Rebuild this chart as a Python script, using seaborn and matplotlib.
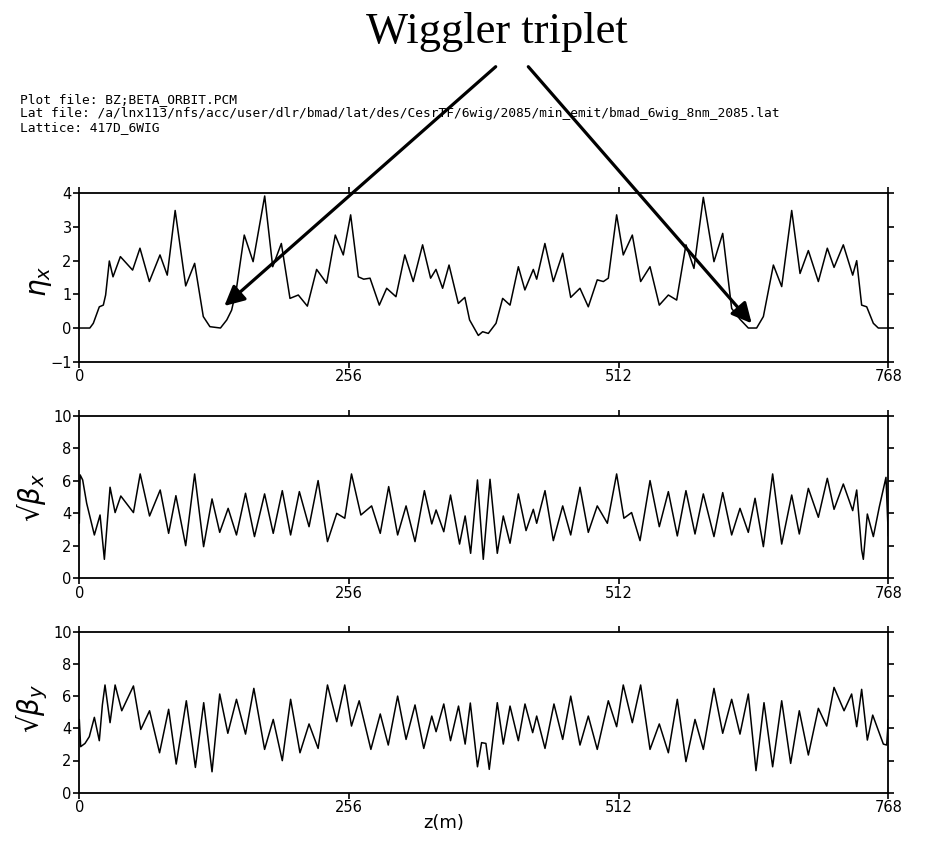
import matplotlib
matplotlib.use("Agg")
import matplotlib.pyplot as plt
from matplotlib.patches import FancyArrowPatch
import seaborn as sns
import pandas as pd

# ---------------- data ----------------
eta_z = [0, 10, 13.3, 19, 22.8, 25, 28.5, 32, 39, 50.6, 57.6, 66.5, 76.6, 83.5, 91, 101, 109.5,
         117.7, 124, 134, 140, 144.6, 149, 156.6, 165, 176, 183.6, 191.8, 200, 207.9, 216.5,
         225.3, 234.8, 243, 250.6, 257.6, 264.9, 270, 276, 284.8, 291.8, 300.6, 309, 317, 325.9,
         333.5, 338.6, 344.9, 351, 359.8, 366, 370.5, 378.8, 382.9, 388.3, 395.6, 401.9, 408.9,
         416.8, 423, 431, 434.2, 442, 450, 458.9, 466.5, 475.3, 483.2, 491.7, 497.5, 502.2,
         510.1, 516.4, 525, 532.9, 541.8, 550.6, 559.2, 567.1, 575.9, 583.5, 592.4, 602.5,
         610.8, 619.3, 627.2, 635.1, 643, 649.4, 658.9, 666.8, 676.3, 684.2, 692.1, 701.6,
         710.1, 716.5, 725.3, 734.2, 738, 742.7, 747.5, 753.8, 758.5, 768]
eta_v = [0, 0, 0.14, 0.63, 0.68, 0.98, 1.99, 1.52, 2.12, 1.72, 2.37, 1.38, 2.17, 1.57, 3.49, 1.25,
         1.92, 0.34, 0.04, 0, 0.24, 0.53, 1.13, 2.76, 1.97, 3.92, 1.82, 2.51, 0.88, 0.98, 0.65,
         1.74, 1.33, 2.76, 2.17, 3.36, 1.52, 1.45, 1.48, 0.68, 1.18, 0.93, 2.17, 1.38, 2.47,
         1.48, 1.74, 1.18, 1.87, 0.73, 0.91, 0.24, -0.22, -0.11, -0.16, 0.14, 0.88, 0.68, 1.82,
         1.13, 1.74, 1.45, 2.51, 1.38, 2.22, 0.91, 1.18, 0.63, 1.43, 1.38, 1.48, 3.36, 2.17,
         2.76, 1.38, 1.82, 0.68, 0.98, 0.83, 2.47, 1.77, 3.88, 1.97, 2.81, 0.58, 0.26, 0, 0,
         0.34, 1.87, 1.23, 3.49, 1.62, 2.30, 1.38, 2.37, 1.80, 2.47, 1.57, 2.00, 0.68, 0.63,
         0.14, 0, 0]

bx_z = [0, 0.8, 3.2, 7, 14.3, 19.7, 23.8, 29.2, 34, 39.4, 51.4, 57.8, 66.7, 76.8, 84.8, 91.7,
        101, 109.5, 118, 126, 133.3, 141.3, 149.2, 157.8, 166.3, 175.9, 184.1, 192.7, 200.6,
        208.9, 218.1, 226.7, 235.6, 244.4, 252, 258.4, 267.3, 277.5, 285.7, 293.7, 302.2, 310.2,
        318.7, 327.6, 334.6, 338.7, 346, 352.4, 361, 366.3, 371.5, 378, 383.5, 389.9, 396.8,
        402.5, 408.9, 416.8, 424.1, 431, 434.2, 442.1, 450, 458.9, 466.5, 475.3, 483.2, 491.7,
        501.3, 510.1, 517, 524.3, 532.3, 541.8, 550.6, 559.2, 567.7, 575.9, 584.5, 592.4,
        602.5, 610.8, 619.3, 627.2, 635.1, 641.5, 649.4, 658.2, 666.8, 676.3, 683.5, 692.1,
        701.6, 710.1, 716.5, 725.3, 734.2, 738, 742.7, 744.3, 748.1, 753.8, 759.5, 765.8, 768]
bx_v = [3.39, 6.37, 6.06, 4.62, 2.67, 3.90, 1.17, 5.61, 4.05, 5.07, 4.05, 6.43, 3.84, 5.44,
        2.77, 5.09, 2.01, 6.43, 1.95, 4.89, 2.83, 4.31, 2.67, 5.24, 2.57, 5.20, 2.77, 5.40,
        2.67, 5.34, 3.18, 6.02, 2.26, 4.00, 3.70, 6.43, 3.90, 4.46, 2.77, 5.65, 2.67, 4.46,
        2.26, 5.40, 3.35, 4.21, 2.87, 5.13, 2.11, 3.84, 1.54, 6.06, 1.17, 6.10, 1.54, 3.84,
        2.16, 5.20, 2.94, 4.25, 3.39, 5.40, 2.32, 4.46, 2.67, 5.61, 2.83, 4.46, 3.39, 6.43,
        3.70, 4.05, 2.32, 6.02, 3.18, 5.34, 2.61, 5.40, 2.73, 5.20, 2.57, 5.28, 2.67, 4.31,
        2.83, 4.93, 1.95, 6.43, 2.11, 5.13, 2.73, 5.54, 3.76, 6.16, 4.25, 5.81, 4.17, 5.44,
        1.75, 1.17, 3.96, 2.57, 4.41, 6.22, 2.6]

by_z = [0, 1.3, 5.4, 9.5, 14.3, 19, 21.9, 24.4, 29.2, 34, 40.3, 51.4, 58.4, 66.7, 76.2, 84.8,
        92, 101.6, 110.2, 118.1, 126, 133.3, 141, 149.2, 157.8, 165.7, 175.9, 184.1, 192.7,
        200.6, 209.5, 218.1, 226.7, 235.6, 244.4, 252, 258.4, 265.7, 276.8, 285.7, 293.3,
        302.2, 310.2, 318.7, 327, 334.6, 338.7, 346, 352.4, 360, 366.3, 371.2, 378, 381.9, 386,
        389.2, 396.8, 402.5, 408.9, 416.8, 423.1, 430.4, 434.2, 442.1, 450.6, 458.9, 466.5,
        475.3, 483.2, 491.7, 502.2, 510.1, 516.4, 525, 532.9, 541.8, 550.6, 559.2, 567.7,
        575.9, 584.5, 592.4, 602.5, 610.8, 619.3, 627.2, 635.1, 642.4, 650, 658.2, 666.8,
        675.3, 683.5, 692.1, 701.6, 709.5, 716.5, 726, 733.2, 738, 742.7, 748.1, 753.2, 763.3,
        766.5, 768]
by_v = [4.55, 2.86, 3.06, 3.48, 4.68, 3.23, 5.45, 6.69, 4.35, 6.69, 5.09, 6.63, 3.93, 5.09,
        2.48, 5.18, 1.78, 5.71, 1.57, 5.59, 1.30, 6.13, 3.69, 5.80, 3.64, 6.48, 2.69, 4.55,
        1.99, 5.80, 2.48, 4.27, 2.75, 6.69, 4.41, 6.69, 4.14, 5.71, 2.69, 4.89, 2.96, 6.00,
        3.31, 5.45, 2.75, 4.76, 3.79, 5.51, 3.23, 5.38, 3.02, 5.57, 1.61, 3.11, 3.06, 1.45,
        5.59, 3.02, 5.38, 3.23, 5.51, 3.73, 4.76, 2.75, 5.51, 3.31, 6.00, 2.96, 4.76, 2.69,
        5.71, 4.10, 6.69, 4.35, 6.69, 2.69, 4.27, 2.48, 5.80, 1.93, 4.55, 2.69, 6.48, 3.69,
        5.80, 3.64, 6.13, 1.37, 5.59, 1.61, 5.71, 1.82, 5.09, 2.34, 5.24, 4.14, 6.54, 5.09,
        6.13, 4.10, 6.42, 3.27, 4.82, 3.02, 2.96, 4.55]

x_ticks = [0, 256, 512, 768]
eta_ticks = [-1, 0, 1, 2, 3, 4]
beta_ticks = [0, 2, 4, 6, 8, 10]

header_lines = [
    "Plot file: BZ;BETA_ORBIT.PCM",
    "Lat file: /a/lnx113/nfs/acc/user/dlr/bmad/lat/des/CesrTF/6wig/2085/min_emit/bmad_6wig_8nm_2085.lat",
    "Lattice: 417D_6WIG",
]
title_text = "Wiggler triplet"

# ---------------- figure ----------------
sns.set_style("ticks")
plt.rcParams["font.family"] = ["DejaVu Sans"]
plt.rcParams["text.color"] = "black"
plt.rcParams["axes.labelcolor"] = "black"

W, H = 941, 841
fig = plt.figure(figsize=(W / 100, H / 100), dpi=100)


def px_axes(left, top, right, bottom):
    return fig.add_axes([left / W, 1 - bottom / H, (right - left) / W, (bottom - top) / H])


ax1 = px_axes(79.3, 193.3, 888.3, 361.7)
ax2 = px_axes(79.3, 416.0, 888.3, 578.3)
ax3 = px_axes(79.3, 631.7, 888.3, 792.7)

panels = [
    (ax1, eta_z, eta_v, (-1, 4), eta_ticks),
    (ax2, bx_z, bx_v, (0, 10), beta_ticks),
    (ax3, by_z, by_v, (0, 10), beta_ticks),
]

for ax, zz, vv, ylim, yt in panels:
    df = pd.DataFrame({"z": zz, "v": vv})
    sns.lineplot(data=df, x="z", y="v", ax=ax, color="black", linewidth=1.1,
                 sort=False, estimator=None)
    ax.set_xlim(0, 768)
    ax.set_ylim(*ylim)
    ax.set_xticks(x_ticks)
    ax.set_yticks(yt)
    ax.set_xlabel("")
    ax.set_ylabel("")
    for s in ax.spines.values():
        s.set_visible(True)
        s.set_linewidth(1.3)
        s.set_color("black")
    ax.tick_params(direction="out", length=4, width=1.2, top=True, right=True,
                   labeltop=False, labelright=False, labelsize=10.5, pad=1.5,
                   colors="black")
    ax.set_facecolor("white")

# header text
for i, line in enumerate(header_lines):
    fig.text(20 / W, 1 - (93 + 13.8 * i) / H, line, fontsize=9.3,
             family="DejaVu Sans Mono", va="top", ha="left", color="black")

# title
fig.text(496.5 / W, 1 - 43 / H, title_text, fontsize=32, family="Liberation Serif",
         ha="center", va="baseline", color="black")

# arrows
for (x0, y0), (x1, y1) in [((495.7, 66.7), (224.3, 306.0)), ((528.3, 66.7), (751.7, 323.3))]:
    arr = FancyArrowPatch((x0 / W, 1 - y0 / H), (x1 / W, 1 - y1 / H),
                          transform=fig.transFigure, arrowstyle="-|>", mutation_scale=30,
                          linewidth=2.3, color="black", shrinkA=0, shrinkB=0)
    fig.add_artist(arr)

# axis labels
fig.text(40 / W, 1 - 281 / H, r"$\eta_{x}$", fontsize=20, rotation=90, ha="center", va="center")
fig.text(32 / W, 1 - 497 / H, "\u221a" + r"$\beta_{x}$", fontsize=20, rotation=90, ha="center", va="center")
fig.text(32 / W, 1 - 708 / H, "\u221a" + r"$\beta_{y}$", fontsize=20, rotation=90, ha="center", va="center")
fig.text(444 / W, 1 - 823 / H, "z(m)", fontsize=13, ha="center", va="center")

fig.savefig("out.png", dpi=100, facecolor="white")
